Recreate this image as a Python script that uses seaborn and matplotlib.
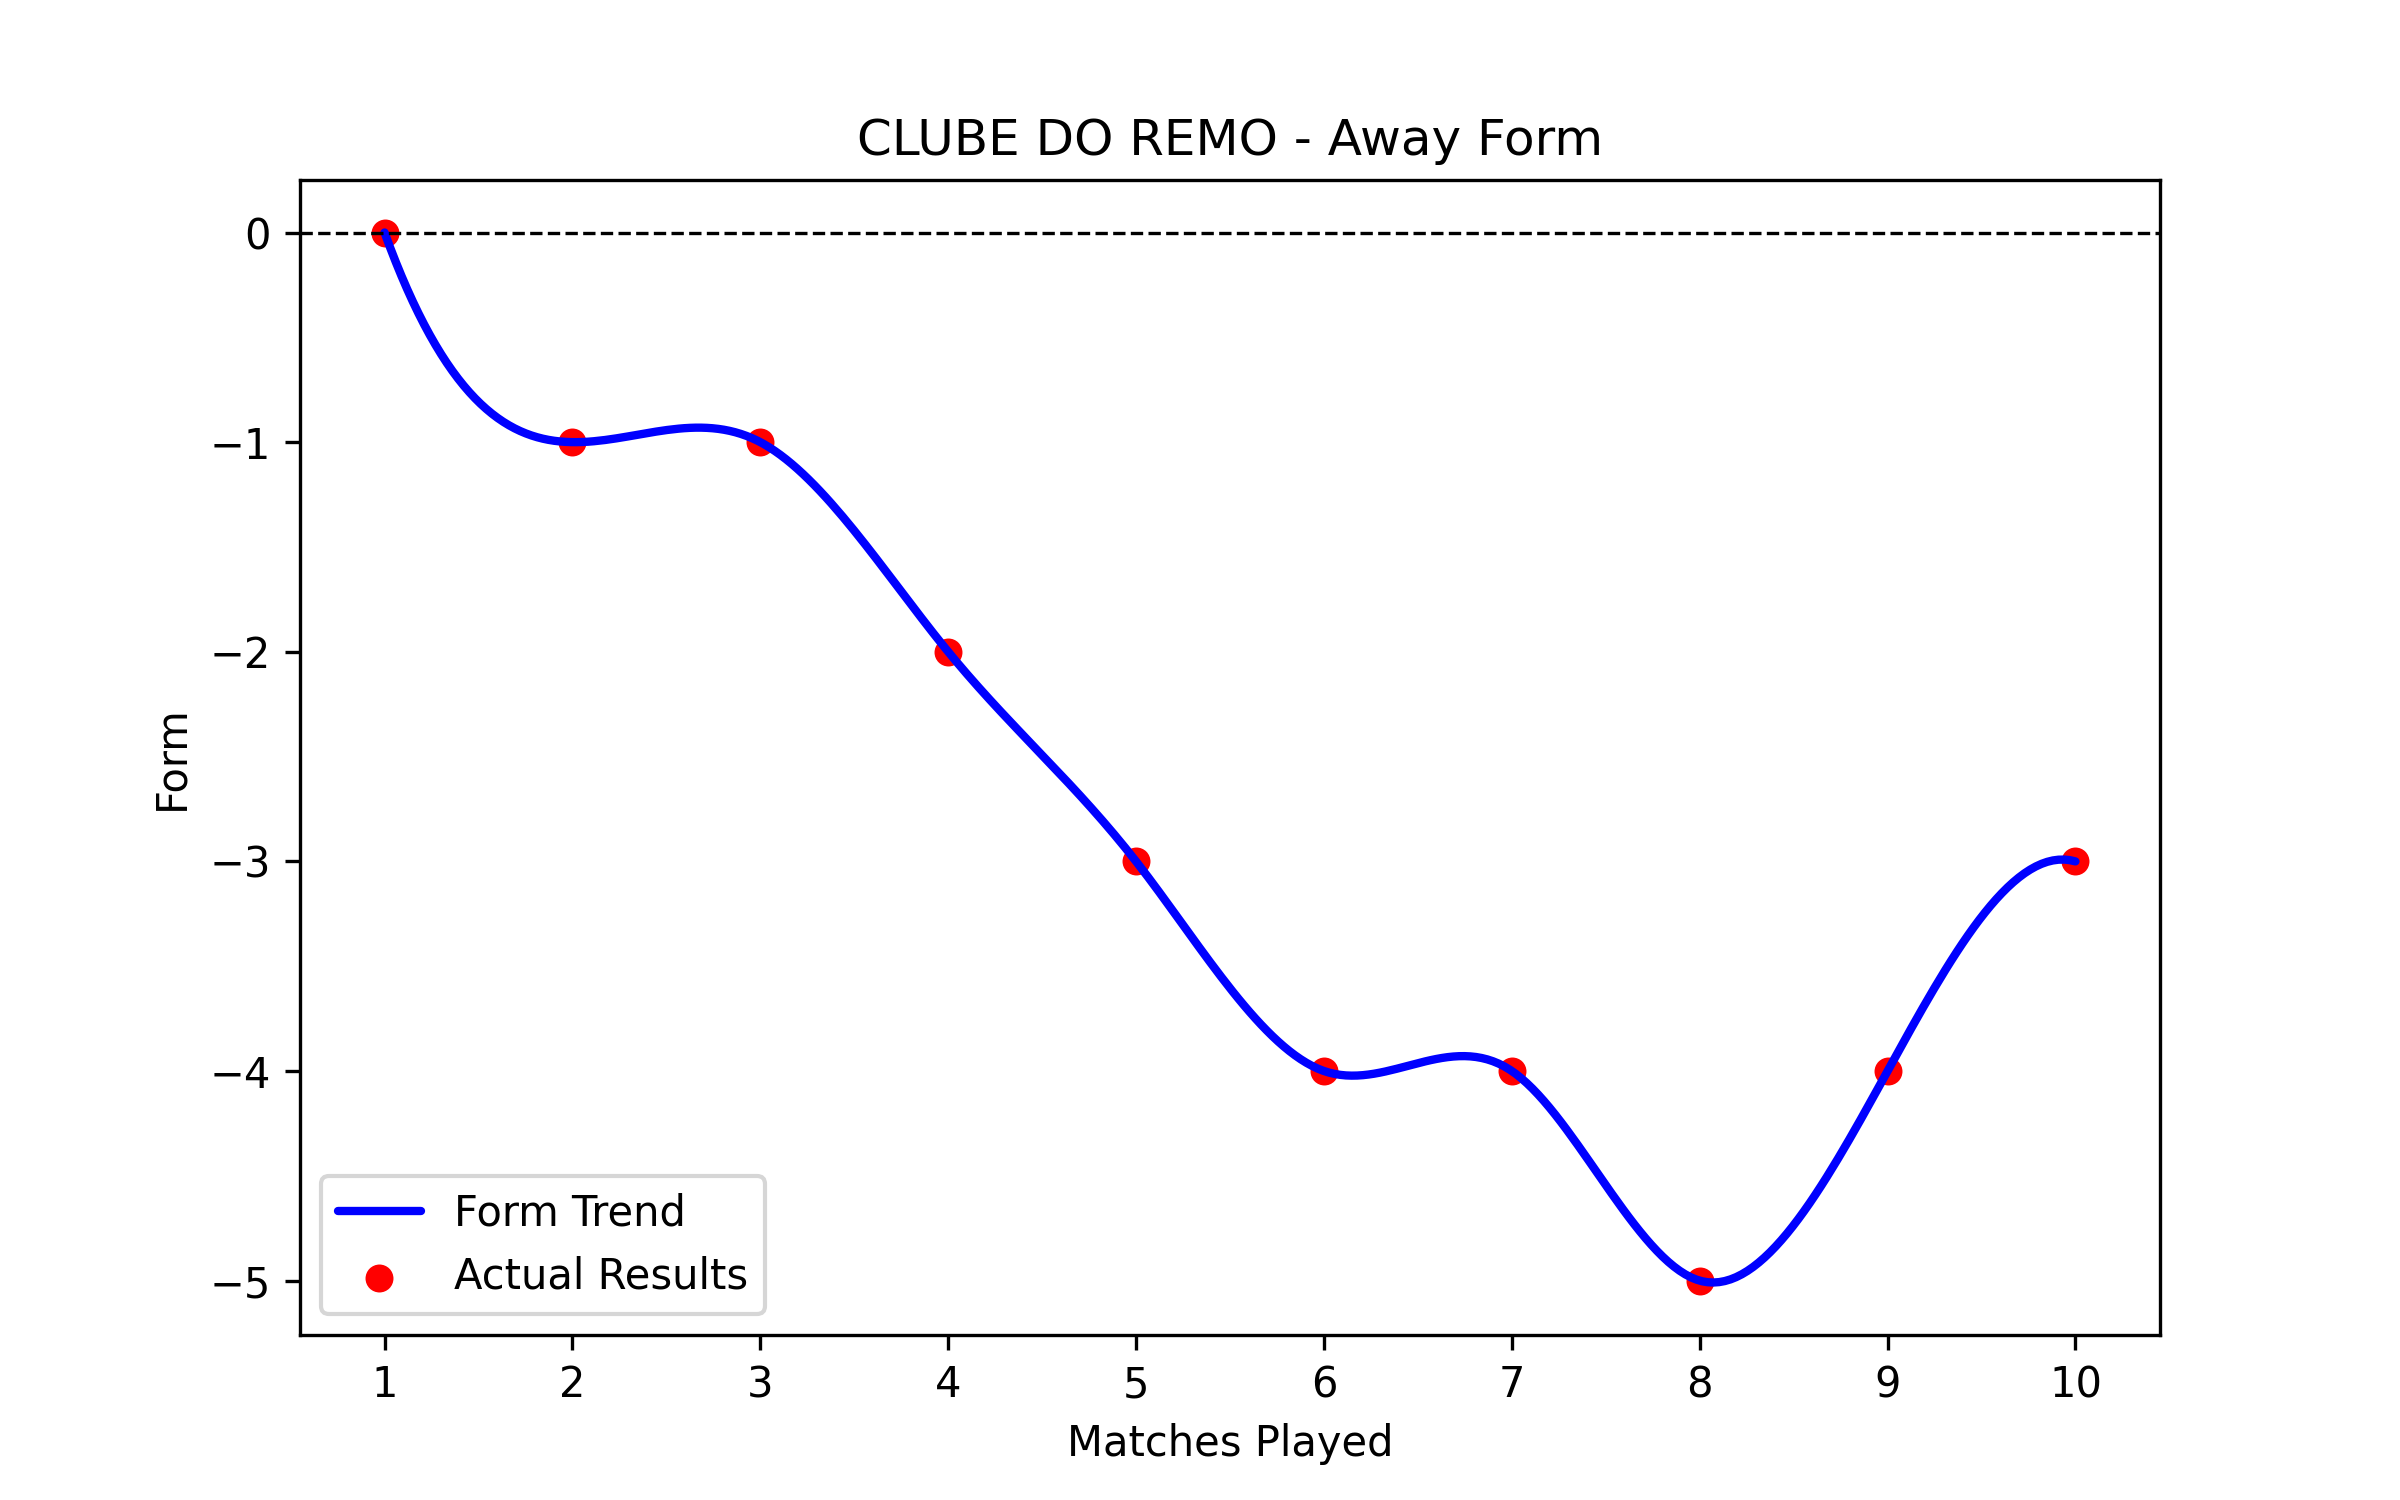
import numpy as np
import matplotlib
matplotlib.use('Agg')
import matplotlib.pyplot as plt
import seaborn as sns

# Match values
matches = [1, 2, 3, 4, 5, 6, 7, 8, 9, 10]
form = [0, -1, -1, -2, -3, -4, -4, -5, -4, -3]


# Cubic spline with not-a-knot ends (same as make_interp_spline k=3)
def cubic_spline(x, y, num=300):
    x = np.asarray(x, dtype=float)
    y = np.asarray(y, dtype=float)
    n = len(x)
    h = np.diff(x)
    A = np.zeros((n, n))
    b = np.zeros(n)
    for i in range(1, n - 1):
        A[i, i - 1] = h[i - 1]
        A[i, i] = 2 * (h[i - 1] + h[i])
        A[i, i + 1] = h[i]
        b[i] = 6 * ((y[i + 1] - y[i]) / h[i] - (y[i] - y[i - 1]) / h[i - 1])
    A[0, 0], A[0, 1], A[0, 2] = h[1], -(h[0] + h[1]), h[0]
    A[-1, -3], A[-1, -2], A[-1, -1] = h[-1], -(h[-2] + h[-1]), h[-2]
    M = np.linalg.solve(A, b)

    xs = np.linspace(x[0], x[-1], num)
    idx = np.clip(np.searchsorted(x, xs) - 1, 0, n - 2)
    x0, x1 = x[idx], x[idx + 1]
    hh = x1 - x0
    t0, t1 = x1 - xs, xs - x0
    ys = (M[idx] * t0**3 / (6 * hh) + M[idx + 1] * t1**3 / (6 * hh)
          + (y[idx] / hh - M[idx] * hh / 6) * t0
          + (y[idx + 1] / hh - M[idx + 1] * hh / 6) * t1)
    return xs, ys


x_smooth, y_smooth = cubic_spline(matches, form)

sns.set_style('white')
plt.rcParams['font.family'] = ['DejaVu Sans']
plt.rcParams['text.color'] = 'black'
plt.rcParams['axes.labelcolor'] = 'black'
plt.rcParams['xtick.color'] = 'black'
plt.rcParams['ytick.color'] = 'black'
fig, ax = plt.subplots(figsize=(8, 5), dpi=300)

sns.lineplot(x=x_smooth, y=y_smooth, color='blue', linewidth=2,
             label='Form Trend', ax=ax, sort=False)
sns.scatterplot(x=matches, y=form, color='red', s=45, linewidth=0,
                label='Actual Results', ax=ax)
ax.axhline(0, color='black', linestyle='--', linewidth=0.8)

ax.set_title('CLUBE DO REMO - Away Form')
ax.set_xlabel('Matches Played')
ax.set_ylabel('Form')
ax.set_xticks(matches)
for s in ax.spines.values():
    s.set_color('black')
    s.set_linewidth(0.8)
ax.tick_params(axis='both', which='major', bottom=True, left=True,
               length=3.5, width=0.8, color='black', labelcolor='black',
               labelsize=10)
ax.legend(loc='lower left')

plt.savefig('out.png', dpi=300)
